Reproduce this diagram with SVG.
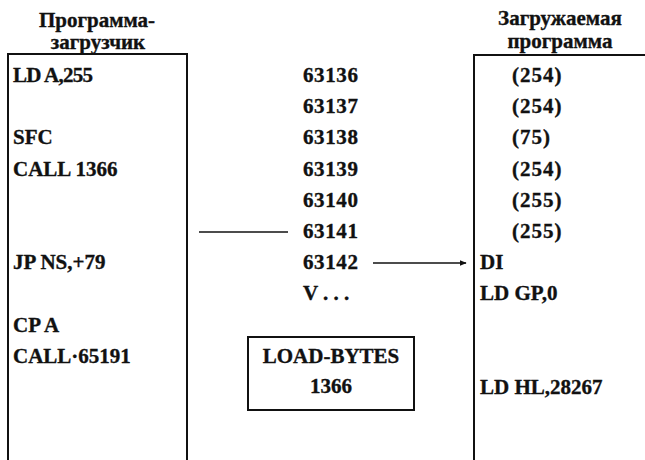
<svg xmlns="http://www.w3.org/2000/svg" width="645" height="460" viewBox="0 0 645 460">
<style>
text{font-family:"Liberation Serif","Times New Roman",serif;font-weight:bold;font-size:21px;fill:#111;stroke:#111;stroke-width:0.35}
.h{text-anchor:middle}
.c{text-anchor:middle}
.n{letter-spacing:0.6px}
.p{letter-spacing:1px}
.ln{stroke:#111;stroke-width:2;fill:none}
.ar{stroke:#111;stroke-width:1.6;fill:none}
</style>
<defs>
<marker id="ah" viewBox="0 0 10 10" refX="9" refY="5" markerWidth="7" markerHeight="7" markerUnits="userSpaceOnUse" orient="auto">
<path d="M0,1 L10,5 L0,9 z" fill="#111"/>
</marker>
</defs>
<rect width="645" height="460" fill="#fff"/>
<g id="loader">
<text class="h" x="97" y="27">Программа-</text>
<text class="h" x="98" y="49">загрузчик</text>
<path class="ln" d="M8,460 V54 H187 V460"/>
<text x="13" y="82" textLength="80">LD A,255</text>
<text x="13" y="144.4">SFC</text>
<text x="13" y="175.6">CALL 1366</text>
<text x="13" y="269.2">JP NS,+79</text>
<text x="13" y="332">CP A</text>
<text x="13" y="363">CALL·65191</text>
</g>
<g id="addresses">
<text class="n" x="303" y="82">63136</text>
<text class="n" x="303" y="113.2">63137</text>
<text class="n" x="303" y="144.4">63138</text>
<text class="n" x="303" y="175.6">63139</text>
<text class="n" x="303" y="206.8">63140</text>
<text class="n" x="303" y="238">63141</text>
<text class="n" x="303" y="269.2">63142</text>
<text x="303" y="300.4">V . . .</text>
</g>
<g id="loadbytes">
<rect class="ln" x="248" y="337" width="166" height="73"/>
<text class="c" x="331" y="363">LOAD-BYTES</text>
<text class="c" x="331" y="393">1366</text>
</g>
<g id="loaded">
<text class="h" x="560" y="25">Загружаемая</text>
<text class="h" x="560" y="48">программа</text>
<path class="ln" d="M474,460 V55 H645"/>
<text class="p" x="512" y="82">(254)</text>
<text class="p" x="512" y="113.2">(254)</text>
<text class="p" x="512" y="144.4">(75)</text>
<text class="p" x="512" y="175.6">(254)</text>
<text class="p" x="512" y="206.8">(255)</text>
<text class="p" x="512" y="238">(255)</text>
<text x="480" y="269.2">DI</text>
<text x="480" y="300.4">LD GP,0</text>
<text x="480" y="394">LD HL,28267</text>
</g>
<g id="connectors">
<line class="ar" x1="199" y1="232" x2="288" y2="232"/>
<line class="ar" x1="373" y1="263" x2="466" y2="263" marker-end="url(#ah)"/>
</g>
</svg>
